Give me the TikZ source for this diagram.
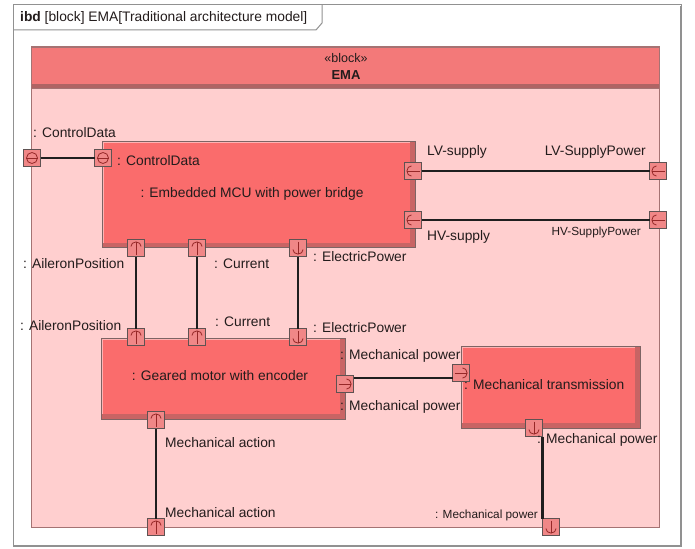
\documentclass[tikz,border=0pt]{standalone}
\usepackage{fontspec}
\setmainfont{Liberation Sans}
\usetikzlibrary{arrows.meta}

\definecolor{framegray}{RGB}{145,145,145}
\definecolor{emabody}{RGB}{255,207,207}
\definecolor{emaedge}{RGB}{165,115,115}
\definecolor{emahead}{RGB}{243,121,121}
\definecolor{emaheaddark}{RGB}{175,100,100}
\definecolor{blockred}{RGB}{250,108,108}
\definecolor{blockdark}{RGB}{200,100,100}
\definecolor{blocklight}{RGB}{255,178,178}
\definecolor{edgegray}{RGB}{125,100,100}
\definecolor{portfill}{RGB}{240,135,135}
\definecolor{portedge}{RGB}{95,82,82}
\definecolor{glyph}{RGB}{150,40,40}
\definecolor{ink}{RGB}{35,28,28}

\tikzset{
  lbl/.style={inner sep=0pt, text=ink, font=\fontsize{13.8}{16}\selectfont},
  smalllbl/.style={lbl, font=\fontsize{11.8}{14}\selectfont},
  conn/.style={line width=2.2pt, black!88},
  port/.style={draw=portedge, fill=portfill, line width=0.9pt,
    minimum size=17pt, inner sep=0pt, outer sep=0pt},
  parr/.style={glyph, line width=0.8pt, -{Arc Barb[length=5pt, width=11pt]}},
  block/.style={draw=edgegray, fill=blockred, line width=0.8pt, inner sep=0pt,
    path picture={
      \fill[blockdark] (path picture bounding box.south west) rectangle
        ([yshift=5pt]path picture bounding box.south east);
      \fill[blockdark] ([xshift=-5pt]path picture bounding box.south east) rectangle
        (path picture bounding box.north east);
      \draw[blocklight, line width=2pt]
        ([xshift=1pt,yshift=5pt]path picture bounding box.south west) --
        ([xshift=1pt,yshift=-1pt]path picture bounding box.north west) --
        ([xshift=-5pt,yshift=-1pt]path picture bounding box.north east);
    }},
  emabox/.style={draw=emaedge, fill=emabody, line width=1pt, inner sep=0pt},
  emaband/.style={draw=emaedge, fill=emahead, line width=0.8pt, inner sep=0pt,
    path picture={
      \fill[emaheaddark] (path picture bounding box.south west) rectangle
        ([yshift=4pt]path picture bounding box.south east);
    }},
}

% port symbols
\newcommand\glyphup[1]{\draw[parr] ([yshift=-6.5pt]#1.center) -- ([yshift=6.5pt]#1.center);}
\newcommand\glyphdown[1]{\draw[parr] ([yshift=6.5pt]#1.center) -- ([yshift=-6.5pt]#1.center);}
\newcommand\glyphleft[1]{\draw[parr] ([xshift=6.5pt]#1.center) -- ([xshift=-6.5pt]#1.center);}
\newcommand\glyphright[1]{\draw[parr] ([xshift=-6.5pt]#1.center) -- ([xshift=6.5pt]#1.center);}
\newcommand\glyphboth[1]{%
  \draw[glyph, line width=0.8pt] (#1.center) circle[radius=5.5pt];
  \draw[glyph, line width=0.8pt] ([xshift=-6pt]#1.center) -- ([xshift=6pt]#1.center);}

\begin{document}
\begin{tikzpicture}[x=1pt,y=-1pt]
\useasboundingbox[fill=white] (0,0) rectangle (695,548);

% diagram frame and its name tab
\draw[framegray, line width=1pt] (13,5) rectangle (681,546);
\draw[framegray, line width=1.6pt] (681,6) -- (681,546) -- (14,546);
\draw[framegray, line width=1pt] (13,30) -- (316,30) -- (322,23) -- (322,5);
\node[lbl, anchor=west] (title) at (20,18) {\textbf{ibd} [block] EMA[Traditional architecture model]};

% EMA block
\node[emabox, minimum width=628pt, minimum height=480pt] (ema) at (345,287) {};
\node[emaband, minimum width=628pt, minimum height=41pt] (emahead) at (345,67.5) {};
\node[lbl, font=\fontsize{12.5}{15}\selectfont] (stereo) at (346,58) {«block»};
\node[lbl, font=\fontsize{13}{15}\selectfont\bfseries] (emaname) at (346,75.5) {EMA};

% parts
\node[block, minimum width=313pt, minimum height=106pt] (mcu) at (258.5,194.5) {};
\node[block, minimum width=244pt, minimum height=81pt] (motor) at (223,378.5) {};
\node[block, minimum width=179pt, minimum height=82pt] (trans) at (550.5,387) {};

\node[lbl] (mcuname) at (252,194) {: Embedded MCU with power bridge};
\node[lbl] (motorname) at (220,376) {: Geared motor with encoder};
\node[lbl, anchor=west] (transname) at (464,385) {: Mechanical transmission};

% ports
\node[port] (cdo) at (32,158) {};
\node[port] (cdi) at (103,158) {};
\node[port] (lvi) at (413,171) {};
\node[port] (lvo) at (658,171) {};
\node[port] (hvi) at (413,220) {};
\node[port] (hvo) at (658,220) {};
\node[port] (a1) at (136,248) {};
\node[port] (c1) at (197,248) {};
\node[port] (e1) at (298,248) {};
\node[port] (a2) at (136,337) {};
\node[port] (c2) at (197,337) {};
\node[port] (e2) at (298,337) {};
\node[port] (mr) at (345,384) {};
\node[port] (tl) at (461,373) {};
\node[port] (mb) at (156,420) {};
\node[port] (mbo) at (156,527) {};
\node[port] (tb) at (534,428) {};
\node[port] (tbo) at (551,527) {};

\glyphboth{cdo} \glyphboth{cdi}
\glyphleft{lvi} \glyphleft{lvo} \glyphleft{hvi} \glyphleft{hvo}
\glyphup{a1} \glyphup{c1} \glyphdown{e1}
\glyphup{a2} \glyphup{c2} \glyphdown{e2}
\glyphright{mr} \glyphright{tl}
\glyphup{mb} \glyphup{mbo}
\glyphdown{tb} \glyphdown{tbo}

% connectors
\draw[conn] (cdo) -- (cdi);
\draw[conn] (lvi) -- (lvo);
\draw[conn] (hvi) -- (hvo);
\draw[conn] (a1) -- (a2);
\draw[conn] (c1) -- (c2);
\draw[conn] (e1) -- (e2);
\draw[conn] ([yshift=6pt]mr.east) -- ([yshift=-5pt]tl.west);
\draw[conn] (mb) -- (mbo);
\draw[conn] (tb.south east) -- (tbo.north west);

% port labels
\node[lbl, anchor=west] (lcdo) at (33,133) {: ControlData};
\node[lbl, anchor=west] (lcdi) at (117,161) {: ControlData};
\node[lbl, anchor=west] (llvi) at (427,152) {LV-supply};
\node[lbl, anchor=east] (llvo) at (646,152) {LV-SupplyPower};
\node[lbl, anchor=west] (lhvi) at (427,237) {HV-supply};
\node[smalllbl, anchor=east] (lhvo) at (641,232) {HV-SupplyPower};
\node[lbl, anchor=west] (la1) at (23,264) {: AileronPosition};
\node[lbl, anchor=west] (lc1) at (214,264) {: Current};
\node[lbl, anchor=west] (le1) at (313,257) {: ElectricPower};
\node[lbl, anchor=west] (la2) at (20,326) {: AileronPosition};
\node[lbl, anchor=west] (lc2) at (215,322) {: Current};
\node[lbl, anchor=west] (le2) at (313,328) {: ElectricPower};
\node[lbl, anchor=west] (lmr) at (340,356) {: Mechanical power};
\node[lbl, anchor=west] (lmr2) at (340,407) {: Mechanical power};
\node[lbl, anchor=west] (ltb) at (537,440) {: Mechanical power};
\node[smalllbl, anchor=east] (ltbo) at (538,515) {: Mechanical power};
\node[lbl, anchor=west] (lmb) at (165,443) {Mechanical action};
\node[lbl, anchor=west] (lmbo) at (165,513) {Mechanical action};
\end{tikzpicture}
\end{document}
